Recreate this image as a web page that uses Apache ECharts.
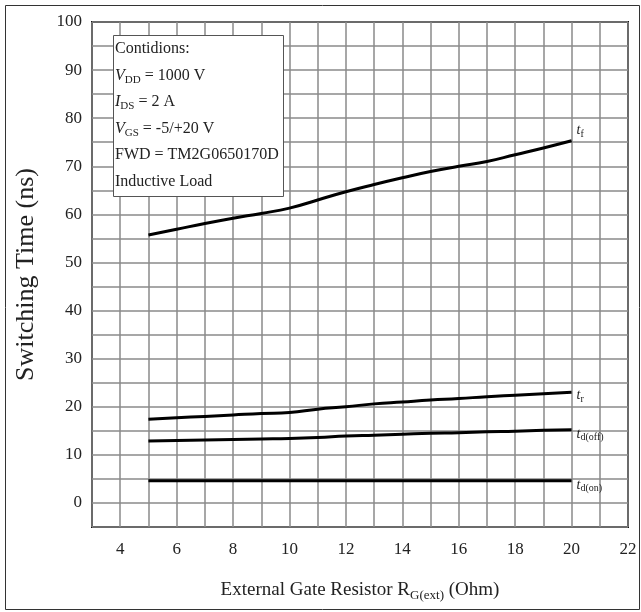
<!DOCTYPE html>
<html>
<head>
<meta charset="utf-8">
<script src="https://cdn.jsdelivr.net/npm/echarts@6/dist/echarts.min.js"></script>
<style>
html,body{margin:0;padding:0;background:#fff;}
#main{width:641px;height:612px;}
</style>
</head>
<body>
<div id="main"></div>
<script>
// R_G(ext) in Ohm
var rg = [5,6,7,8,9,10,11,12,13,14,15,16,17,18,19,20];
// switching times, ns
var tf   = [55.7,56.9,58.1,59.2,60.2,61.3,63.0,64.7,66.2,67.6,68.9,70.0,71.0,72.4,73.8,75.3];
var tr   = [17.4,17.7,18.0,18.3,18.6,18.8,19.5,20.0,20.6,21.0,21.4,21.7,22.1,22.4,22.7,23.0];
var tdoff= [12.9,13.0,13.1,13.2,13.3,13.4,13.6,13.9,14.1,14.3,14.5,14.6,14.8,14.9,15.1,15.2];
var tdon = [4.6,4.6,4.6,4.6,4.6,4.6,4.6,4.6,4.6,4.6,4.6,4.6,4.6,4.6,4.6,4.6];
var xTicks = [4,6,8,10,12,14,16,18,20,22];
var yTicks = [0,10,20,30,40,50,60,70,80,90,100];
var condLines = [
	'Contidions:',
	'{i|V}{s|DD} = 1000 V',
	'{i|I}{s|DS} = 2 A',
	'{i|V}{s|GS} = -5/+20 V',
	'FWD = TM2G0650170D',
	'Inductive Load'
];

var serif = 'Liberation Serif';
var myChart = echarts.init(document.getElementById('main'));

function pairs(ys){
	var out=[];
	for(var i=0;i<rg.length;i++){ out.push([rg[i],ys[i]]); }
	return out;
}
var labRich = {
	t:{fontFamily:serif,fontStyle:'italic',fontSize:14,color:'#222'},
	s:{fontFamily:serif,fontSize:10,color:'#222',padding:[8,0,0,0]}
};
function mkSeries(name,ys,sub,off){
	return {
		name:name,
		type:'line',
		data:pairs(ys),
		showSymbol:false,
		smooth:true,
		lineStyle:{color:'#000',width:3},
		endLabel:{
			show:true,
			formatter:'{t|t}{s|'+sub+'}',
			offset:off,
			rich:labRich
		},
		silent:true
	};
}

var option = {
	animation:false,
	backgroundColor:'#fff',
	grid:{left:92,right:13,top:22,bottom:85,show:true,borderColor:'#111',borderWidth:2,backgroundColor:'transparent'},
	xAxis:{
		type:'value',min:3,max:22,interval:1,
		axisLine:{show:false},axisTick:{show:false},
		splitLine:{show:true,lineStyle:{color:'#8a8a8a',width:1.5}},
		axisLabel:{
			fontFamily:serif,fontSize:17,color:'#222',margin:14,
			formatter:function(v){ return xTicks.indexOf(v)>=0 ? String(v) : ''; }
		},
		name:'External Gate Resistor {r|R}{s|G(ext)} (Ohm)',
		nameLocation:'middle',nameGap:52,
		nameTextStyle:{fontFamily:serif,fontSize:19,color:'#222',
			rich:{
				r:{fontFamily:serif,fontSize:19,color:'#222'},
				s:{fontFamily:serif,fontSize:13,color:'#222',padding:[10,0,0,0]}
			}}
	},
	yAxis:{
		type:'value',min:-5,max:100,interval:5,
		axisLine:{show:false},axisTick:{show:false},
		splitLine:{show:true,lineStyle:{color:'#8a8a8a',width:1.5}},
		axisLabel:{
			fontFamily:serif,fontSize:17,color:'#222',margin:10,
			formatter:function(v){ return yTicks.indexOf(v)>=0 ? String(v) : ''; }
		},
		name:'Switching Time (ns)',
		nameLocation:'middle',nameGap:53,
		nameTextStyle:{fontFamily:serif,fontSize:26,color:'#222'}
	},
	graphic:[
		{type:'rect',left:3,top:3,shape:{width:634,height:604},
			style:{fill:'none',stroke:'#333',lineWidth:1},z:100},
		{type:'rect',left:113,top:35,shape:{width:170,height:161},
			style:{fill:'#fff',stroke:'#555',lineWidth:1},z:50},
		{type:'text',left:115,top:36,z:51,
			style:{
				text:condLines.join('\n'),
				fontFamily:serif,fontSize:16,fill:'#222',lineHeight:26.5,
				rich:{
					i:{fontFamily:serif,fontStyle:'italic',fontSize:16,fill:'#222',lineHeight:26.5},
					s:{fontFamily:serif,fontSize:11,fill:'#222',padding:[8,0,0,0],lineHeight:26.5}
				}
			}}
	],
	series:[
		mkSeries('tf',tf,'f',[-3,-10]),
		mkSeries('tr',tr,'r',[-3,3]),
		mkSeries('tdoff',tdoff,'d(off)',[-3,4]),
		mkSeries('tdon',tdon,'d(on)',[-3,4])
	]
};
myChart.setOption(option);
</script>
</body>
</html>
